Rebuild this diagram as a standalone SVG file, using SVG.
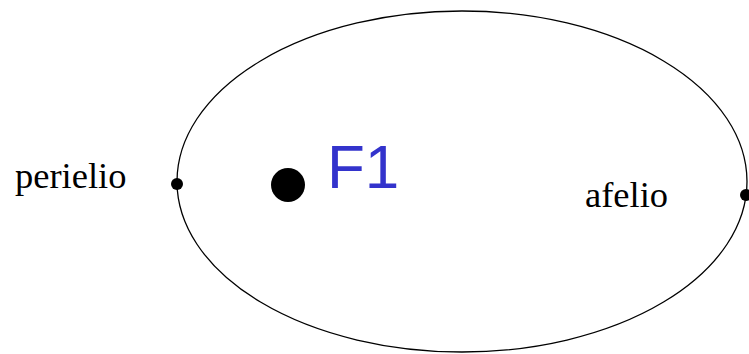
<svg xmlns="http://www.w3.org/2000/svg" width="749" height="354" viewBox="0 0 749 354">
<style>
.orbit{fill:none;stroke:#000;stroke-width:1.3}
.lbl{font-family:"Liberation Serif",serif;font-size:36.5px;fill:#000}
.f{font-family:"Liberation Sans",Arial,sans-serif;font-size:62px;fill:#3333cc}
</style>
<rect width="749" height="354" fill="#fff"/>
<g id="orbit"><ellipse class="orbit" cx="462" cy="181.5" rx="285" ry="170.5"/></g>
<g id="perielio"><circle cx="177" cy="184" r="6" fill="#000"/><text class="lbl" x="15" y="188">perielio</text></g>
<g id="afelio"><circle cx="746" cy="195" r="6" fill="#000"/><text class="lbl" x="585" y="207">afelio</text></g>
<g id="F1"><circle cx="288" cy="185" r="17" fill="#000"/><text class="f" x="327" y="188">F1</text></g>
</svg>
